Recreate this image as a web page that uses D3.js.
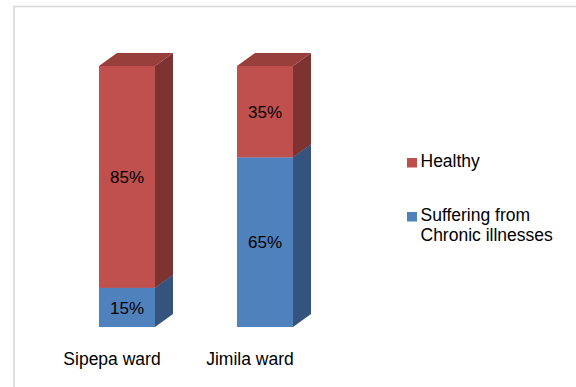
<!DOCTYPE html>
<html>
<head>
<meta charset="utf-8">
<script src="https://cdn.jsdelivr.net/npm/d3@7"></script>
<style>
  body { margin: 0; background: #fff; }
  svg { display: block; font-family: "Liberation Sans", Arial, sans-serif; }
</style>
</head>
<body>
<svg width="576" height="387"></svg>
<script>
const CATEGORIES = ['Sipepa ward', 'Jimila ward'];
const SERIES = ['chronic', 'healthy'];
const CHRONIC = [15, 65];
const HEALTHY = [85, 35];
const LEGEND = [
    {key: 'healthy', lines: ['Healthy']},
    {key: 'chronic', lines: ['Suffering from', 'Chronic illnesses']}
];

const COLORS = {healthy: '#C0504D', chronic: '#4F81BD'};
const SIDE = {healthy: '#7E3331', chronic: '#34547D'};
const TOP = {healthy: '#983E3B', chronic: '#3E6696'};
const DEPTH = {dx: 18, dy: 13};

const rows = CATEGORIES.map((c, i) => ({cat: c, chronic: CHRONIC[i], healthy: HEALTHY[i]}));
const stacked = d3.stack().keys(SERIES)(rows);

const svg = d3.select('svg');

// chart frame, runs off the right and bottom of the picture
svg.append('rect')
    .attr('x', 14).attr('y', 6.5)
    .attr('width', 620).attr('height', 420)
    .attr('fill', 'none')
    .attr('stroke', '#d9d9d9')
    .attr('stroke-width', 1.6);

const x = d3.scaleBand().domain(CATEGORIES).range([58, 334])
    .paddingInner(0.594).paddingOuter(0.297);
const y = d3.scaleLinear().domain([0, 100]).range([327, 66]);

const chart = svg.append('g');

CATEGORIES.forEach((cat, i) => {
    const x0 = x(cat), x1 = x0 + x.bandwidth();
    const g = chart.append('g');
    stacked.forEach(layer => {
        const key = layer.key;
        const yb = y(layer[i][0]), yt = y(layer[i][1]);
        // right side face
        g.append('path')
            .attr('d', `M${x1},${yb}L${x1 + DEPTH.dx},${yb - DEPTH.dy}L${x1 + DEPTH.dx},${yt - DEPTH.dy}L${x1},${yt}Z`)
            .attr('fill', SIDE[key]);
        // top face
        g.append('path')
            .attr('d', `M${x0},${yt}L${x0 + DEPTH.dx},${yt - DEPTH.dy}L${x1 + DEPTH.dx},${yt - DEPTH.dy}L${x1},${yt}Z`)
            .attr('fill', TOP[key]);
        // front face
        g.append('rect')
            .attr('x', x0).attr('y', yt)
            .attr('width', x1 - x0).attr('height', yb - yt)
            .attr('fill', COLORS[key]);
        g.append('text')
            .attr('x', (x0 + x1) / 2)
            .attr('y', (yb + yt) / 2)
            .attr('dy', '0.36em')
            .attr('text-anchor', 'middle')
            .attr('font-size', 17)
            .attr('fill', '#000')
            .text(layer[i].data[key] + '%');
    });
});

// category labels (sit a little left of the bar centre)
chart.selectAll('.cat').data(CATEGORIES).enter()
    .append('text')
    .attr('class', 'cat')
    .attr('x', d => x(d) + x.bandwidth() / 2 - 15)
    .attr('y', 365)
    .attr('text-anchor', 'middle')
    .attr('font-size', 17.5)
    .attr('fill', '#000')
    .text(d => d);

// legend
const legend = svg.append('g');
const LEG_Y = [167, 221];
LEGEND.forEach((item, i) => {
    legend.append('rect')
        .attr('x', 407).attr('y', LEG_Y[i] - 9)
        .attr('width', 10).attr('height', 9.5)
        .attr('fill', COLORS[item.key]);
    item.lines.forEach((line, j) => {
        legend.append('text')
            .attr('x', 420.5)
            .attr('y', LEG_Y[i] + j * 19.5)
            .attr('font-size', 17.5)
            .attr('fill', '#000')
            .text(line);
    });
});
</script>
</body>
</html>
